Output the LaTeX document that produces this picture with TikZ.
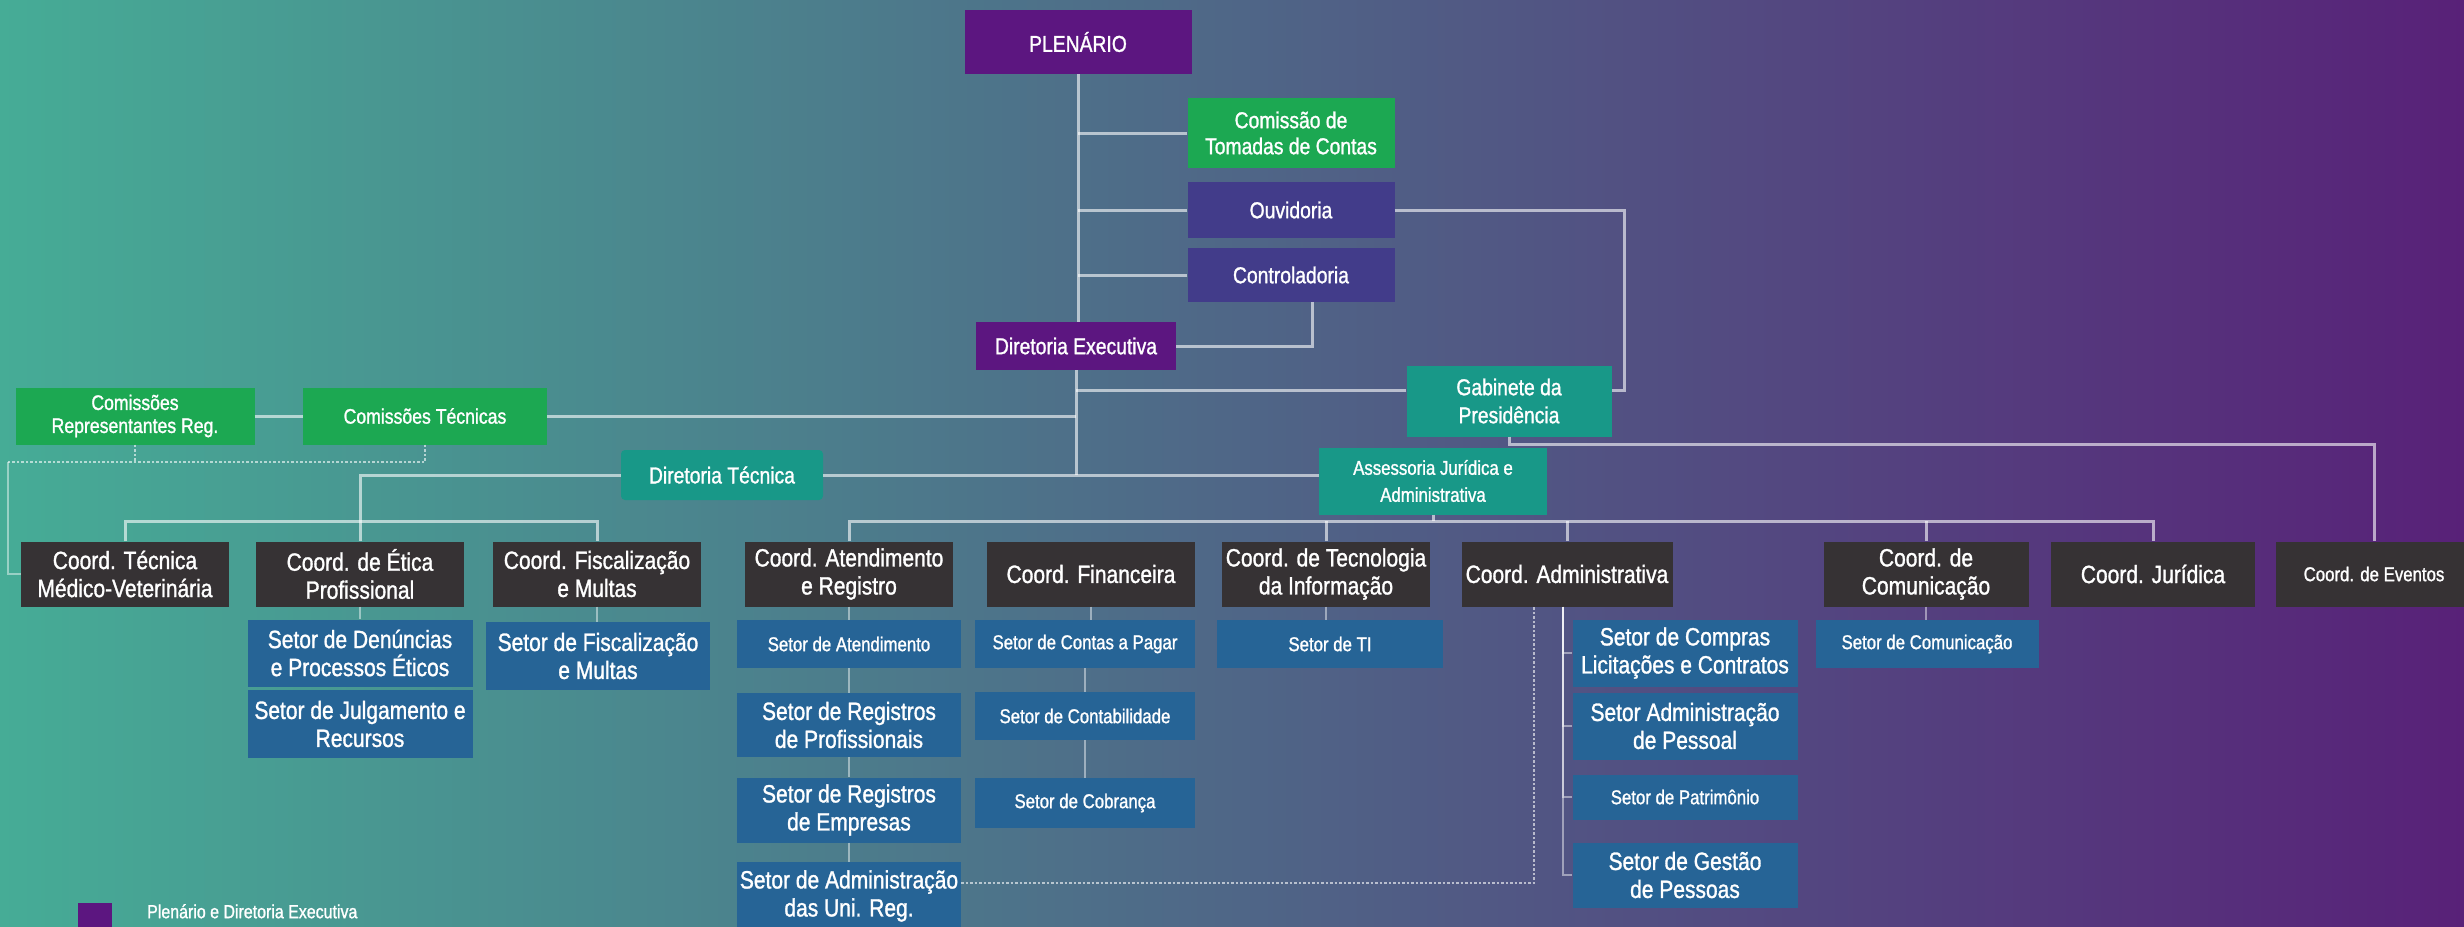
\documentclass[tikz,border=0pt]{standalone}
\usepackage{fontspec}
\setmainfont{Liberation Sans}[FakeStretch=0.84, FakeBold=1.2]
\definecolor{bgleft}{RGB}{70,172,150}
\definecolor{bgmid}{RGB}{72,100,122}
\definecolor{bgright}{RGB}{88,33,120}
\definecolor{plenpurple}{RGB}{92,22,128}
\definecolor{comgreen}{RGB}{28,168,82}
\definecolor{ouvblue}{RGB}{66,60,138}
\definecolor{gabteal}{RGB}{24,152,136}
\definecolor{coordgray}{RGB}{54,50,52}
\definecolor{setorblue}{RGB}{38,100,150}
\begin{document}
\begin{tikzpicture}[x=1pt, y=-1pt,
	box/.style={draw=none, rectangle, inner sep=0pt, text=white, align=center},
	purp/.style={box, fill=plenpurple, font=\fontsize{23}{26}\selectfont},
	grn/.style={box, fill=comgreen, font=\fontsize{23}{26}\selectfont},
	grnsmall/.style={box, fill=comgreen, font=\fontsize{21}{23}\selectfont},
	ouvbox/.style={box, fill=ouvblue, font=\fontsize{23}{26}\selectfont, minimum width=207},
	tealbox/.style={box, fill=gabteal, font=\fontsize{23}{28}\selectfont},
	coord/.style={box, fill=coordgray, font=\fontsize{25}{28}\selectfont, minimum width=208, minimum height=65},
	setor/.style={box, fill=setorblue, font=\fontsize{25}{28}\selectfont, minimum width=224},
	setorone/.style={setor, font=\fontsize{20}{23}\selectfont, minimum height=48},
	link/.style={white, opacity=0.6, line width=3pt},
	sublink/.style={white, opacity=0.45, line width=2pt},
	dotlink/.style={white, opacity=0.6, line width=2.5pt, dotted}]

	\useasboundingbox (0,0) rectangle (2464,926);
	\clip (0,0) rectangle (2464,926);
	\shade[left color=bgleft, middle color=bgmid, right color=bgright] (0,0) rectangle (2464,926);

	\draw (1078,42) node (plen) [purp, minimum width=227, minimum height=64] {PLENÁRIO};
	\draw (1291,133) node (ctc) [grn, minimum width=207, minimum height=70] {Comissão de\\Tomadas de Contas};
	\draw (1291,210) node (ouv) [ouvbox, minimum height=56] {Ouvidoria};
	\draw (1291,275) node (ctrl) [ouvbox, minimum height=54] {Controladoria};
	\draw (1076,346) node (dexec) [purp, minimum width=200, minimum height=48] {Diretoria Executiva};
	\draw (1509,401) node (gab) [tealbox, minimum width=205, minimum height=71] {Gabinete da\\Presidência};
	\draw (135,416) node (comrep) [grnsmall, minimum width=239, minimum height=57] {Comissões\\Representantes Reg.};
	\draw (425,416) node (comtec) [grnsmall, minimum width=244, minimum height=57] {Comissões Técnicas};
	\draw (722,475) node (dtec) [tealbox, minimum width=202, minimum height=50, rounded corners=4pt] {Diretoria Técnica};
	\draw (1433,481) node (asses) [tealbox, font=\fontsize{20}{27}\selectfont, minimum width=228, minimum height=67] {Assessoria Jurídica e\\Administrativa};

	\draw (125,574) node (ctmv) [coord] {Coord. Técnica\\Médico-Veterinária};
	\draw (360,574) node (cetica) [coord] {Coord. de Ética\\Profissional};
	\draw (597,574) node (cfisc) [coord] {Coord. Fiscalização\\e Multas};
	\draw (849,574) node (catend) [coord] {Coord. Atendimento\\e Registro};
	\draw (1091,574) node (cfin) [coord] {Coord. Financeira};
	\draw (1326,574) node (cti) [coord] {Coord. de Tecnologia\\da Informação};
	\draw (1567,574) node (cadm) [coord, minimum width=211] {Coord. Administrativa};
	\draw (1926,574) node (ccom) [coord, minimum width=205] {Coord. de\\Comunicação};
	\draw (2153,574) node (cjur) [coord, minimum width=204] {Coord. Jurídica};
	\draw (2374,574) node (cevt) [coord, font=\fontsize{20}{23}\selectfont, minimum width=196] {Coord. de Eventos};

	\draw (360,653) node (sden) [setor, minimum width=225, minimum height=67] {Setor de Denúncias\\e Processos Éticos};
	\draw (360,724) node (sjulg) [setor, minimum width=225, minimum height=68] {Setor de Julgamento e\\Recursos};
	\draw (598,656) node (sfisc) [setor, minimum height=68] {Setor de Fiscalização\\e Multas};
	\draw (849,644) node (satd) [setorone] {Setor de Atendimento};
	\draw (849,725) node (sregp) [setor, minimum height=64] {Setor de Registros\\de Profissionais};
	\draw (849,810) node (srege) [setor, minimum height=65] {Setor de Registros\\de Empresas};
	\draw (849,896) node (sadmu) [setor, minimum height=68] {Setor de Administração\\das Uni. Reg.};
	\draw (1085,644) node (scp) [setorone, minimum width=220] {Setor de Contas a Pagar};
	\draw (1085,716) node (sctb) [setorone, minimum width=220] {Setor de Contabilidade};
	\draw (1085,803) node (scob) [setorone, minimum width=220, minimum height=50] {Setor de Cobrança};
	\draw (1330,644) node (sti) [setorone, minimum width=226] {Setor de TI};
	\draw (1685,653) node (scomp) [setor, minimum width=225, minimum height=67] {Setor de Compras\\Licitações e Contratos};
	\draw (1685,726) node (sadmp) [setor, minimum width=225, minimum height=67] {Setor Administração\\de Pessoal};
	\draw (1685,797) node (spat) [setorone, minimum width=225, minimum height=45] {Setor de Patrimônio};
	\draw (1685,875) node (sgest) [setor, minimum width=225, minimum height=65] {Setor de Gestão\\de Pessoas};
	\draw (1927,644) node (scomu) [setorone, minimum width=223] {Setor de Comunicação};

	\draw (95,922) node (legsq) [box, fill=plenpurple, minimum width=34, minimum height=38] {};
	\draw (147,904) node (legtxt) [box, anchor=north west, font=\fontsize{19}{21}\selectfont] {Plenário e Diretoria Executiva};

	\draw[link] (plen.south) -- (plen.south |- dexec.north);
	\draw[link] (ctc.west) -- (ctc.west -| plen.south);
	\draw[link] (ouv.west) -- (ouv.west -| plen.south);
	\draw[link] (ctrl.west) -- (ctrl.west -| plen.south);
	\draw[link] (ouv.east) -- ++(230,0) |- ([yshift=11pt]gab.east);
	\draw[link] ([xshift=21pt]ctrl.south) |- (dexec.east);
	\draw[link] (dexec.south) -- (dexec.south |- dtec.east);
	\draw[link] ([yshift=11pt]gab.west) -- ([yshift=11pt]gab.west -| dexec.south);
	\draw[link] (comrep) -- (comtec);
	\draw[link] (comtec.east) -- (comtec.east -| dexec.south);
	\draw[link] (dtec.east) -- (asses.west |- dtec.east);
	\draw[link] (dtec.west) -| (cetica.north);
	\draw[link] (ctmv.north) -- ++(0,-20) -| (cfisc.north);

	\coordinate (abus) at ([yshift=20pt]catend.north);
	\draw[link] (catend.north) -- (abus) -| (cjur.north);
	\draw[link] (asses.south) -- (asses.south |- abus);
	\foreach \n in {cti, cadm, ccom}
		\draw[link] (\n.north) -- (\n.north |- abus);
	\draw[link] (gab.south) -- ++(0,8) -| (cevt.north);

	\coordinate (dl) at (8,462);
	\draw[dotlink] (comtec.south) |- (dl);
	\draw[dotlink] (comrep.south) -- (comrep.south |- dl);
	\draw[sublink] (dl) |- (ctmv.west);

	\foreach \a/\b in {cetica/sden, cfisc/sfisc, catend/satd, satd/sregp, sregp/srege, srege/sadmu, cfin/scp, scp/sctb, sctb/scob, cti/sti, ccom/scomu}
		\draw[sublink] (\a.south) -- (\a.south |- \b.north);
	\foreach \s in {scomp, sadmp, spat, sgest}
		\draw[sublink] ([xshift=-4pt]cadm.south) |- (\s.west);
	\draw[dotlink] ([yshift=13pt]sadmu.east) -| ([xshift=-33pt]cadm.south);
\end{tikzpicture}
\end{document}
